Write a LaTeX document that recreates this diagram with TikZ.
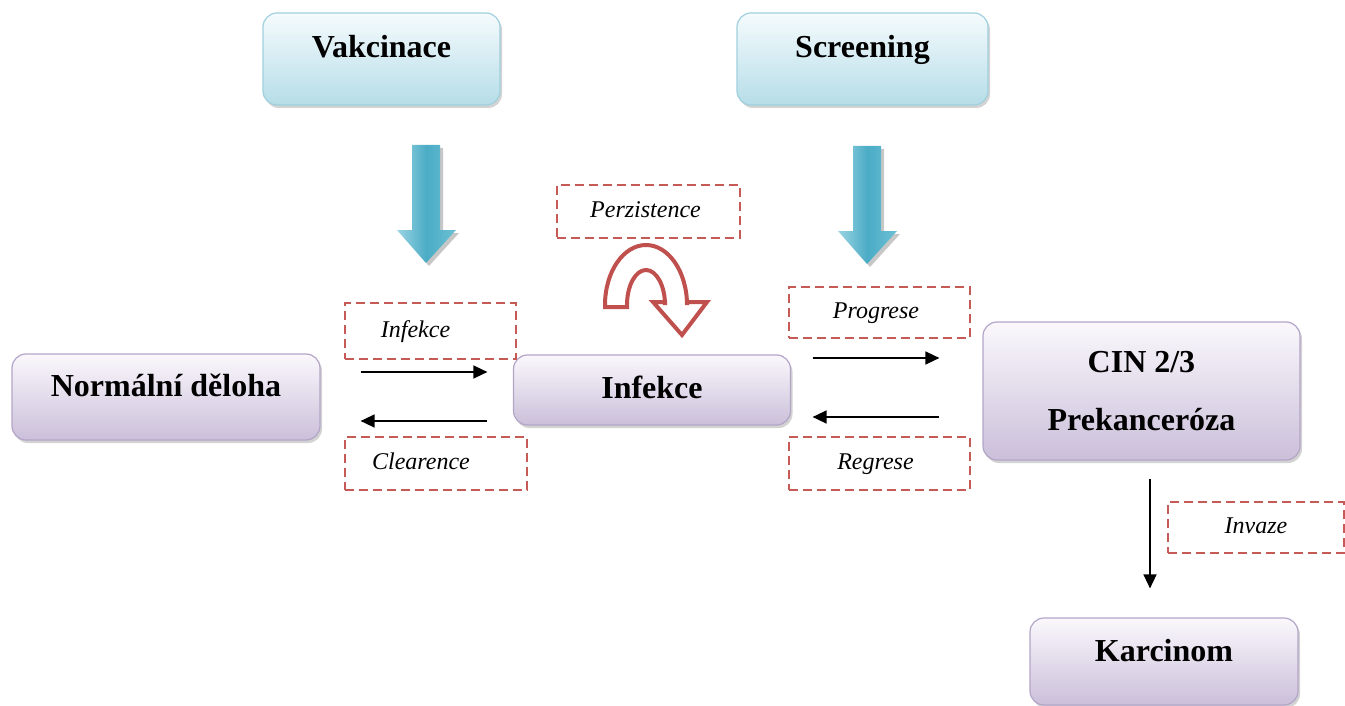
\documentclass[tikz,border=0pt]{standalone}
\usepackage{fontspec}
\setmainfont{Liberation Serif}
\usetikzlibrary{shadows,arrows.meta}
\definecolor{bluetop}{HTML}{F5FBFD}
\definecolor{bluebot}{HTML}{B6DDE8}
\definecolor{blueedge}{HTML}{9FD0DE}
\definecolor{purtop}{HTML}{FAF8FC}
\definecolor{purbot}{HTML}{CBBFDA}
\definecolor{puredge}{HTML}{B3A5C8}
\definecolor{dashred}{HTML}{C65A57}
\definecolor{uturn}{HTML}{C0504D}
\definecolor{arrl}{HTML}{9AD4E3}
\definecolor{arrm}{HTML}{4BACC6}
\definecolor{arrr}{HTML}{6CC0D4}
\begin{document}
\begin{tikzpicture}[x=1pt,y=-1pt,
  box/.style={rounded corners=14pt, line width=1.2pt,
    drop shadow={shadow xshift=2pt, shadow yshift=-3pt, opacity=0.35},
    font=\fontsize{32}{38}\selectfont\bfseries, inner sep=0pt},
  bluebox/.style={box, draw=blueedge, top color=bluetop, bottom color=bluebot},
  purbox/.style={box, draw=puredge, top color=purtop, bottom color=purbot},
  lab/.style={draw=dashred, dash pattern=on 9pt off 5pt, line width=1.6pt,
    font=\fontsize{24}{28}\selectfont\itshape, inner sep=0pt,
    text height=17pt, text depth=5pt},
  arr/.style={line width=1.5pt, -{Triangle[length=14pt,width=13pt]}},
  downarrow/.pic={
    \fill[black, opacity=.22] (-11,3) -- (17,3) -- (17,88) -- (33,88) -- (3,121) -- (-26,88) -- (-11,88) -- cycle;
    \shade[left color=arrl, right color=arrr, middle color=arrm]
      (-14,0) -- (14,0) -- (14,85) -- (30,85) -- (0,118) -- (-29,85) -- (-14,85) -- cycle;
  },
]
\useasboundingbox (0,0) rectangle (1345,706);

% main boxes
\node[bluebox, minimum width=237pt, minimum height=92pt, text height=22pt, text depth=24.8pt] (vak) at (381.5,59) {Vakcinace};
\node[bluebox, minimum width=251pt, minimum height=92pt, text height=22pt, text depth=24.8pt] (scr) at (862.5,59) {Screening};
\node[purbox, minimum width=308pt, minimum height=86pt, text height=22pt, text depth=22.8pt] (norm) at (166,397) {Normální děloha};
\node[purbox, minimum width=277pt, minimum height=70pt, text height=22pt, text depth=5.8pt] (inf) at (652,390) {Infekce};
\node[purbox, minimum width=317pt, minimum height=138pt, align=center] (cin) at (1141.5,391) {CIN 2/3\\[20pt]Prekanceróza};
\node[purbox, minimum width=268pt, minimum height=87pt, text height=22pt, text depth=21.8pt] (kar) at (1164,661.5) {Karcinom};

% dashed labels
\node[lab, minimum width=183pt, minimum height=53pt] (lperz) at (648.5,211.5) {Perzistence\hspace*{6pt}};
\node[lab, minimum width=171pt, minimum height=56pt] (linf) at (430.5,331) {Infekce\hspace*{30pt}};
\node[lab, minimum width=182pt, minimum height=53pt] (lclr) at (436,463.5) {Clearence\hspace*{30pt}};
\node[lab, minimum width=181pt, minimum height=51pt] (lprog) at (879.5,312.5) {Progrese\hspace*{7pt}};
\node[lab, minimum width=181pt, minimum height=53pt] (lreg) at (879.5,463.5) {Regrese\hspace*{8pt}};
\node[lab, minimum width=176pt, minimum height=51pt] (linv) at (1256,527.5) {Invaze};

% blue block arrows
\pic at (426,145) {downarrow};
\pic at (867,146) {downarrow};

% persistence U-turn arrow
\draw[uturn, line width=4pt, fill=white, line join=miter]
  (605,307) -- (605,305) arc[start angle=180, end angle=0, x radius=41pt, y radius=60pt]
  -- (687,302) -- (707,302) -- (682,335) -- (653,302) -- (665,302) -- (665,305)
  arc[start angle=0, end angle=180, x radius=19pt, y radius=35pt]
  -- (627,307) -- cycle;

% connectors
\draw[arr] ([shift={(40,-25)}]norm.east) -- ([shift={(-25.5,-18)}]inf.west);
\draw[arr] ([shift={(-25.5,31)}]inf.west) -- ([shift={(40,24)}]norm.east);
\draw[arr] ([shift={(21.5,-32)}]inf.east) -- ([shift={(-43,-33)}]cin.west);
\draw[arr] ([shift={(-43,26)}]cin.west) -- ([shift={(21.5,27)}]inf.east);
\draw[arr] ([shift={(8.5,18)}]cin.south) -- ([shift={(-14,-29)}]kar.north);
\end{tikzpicture}
\end{document}
